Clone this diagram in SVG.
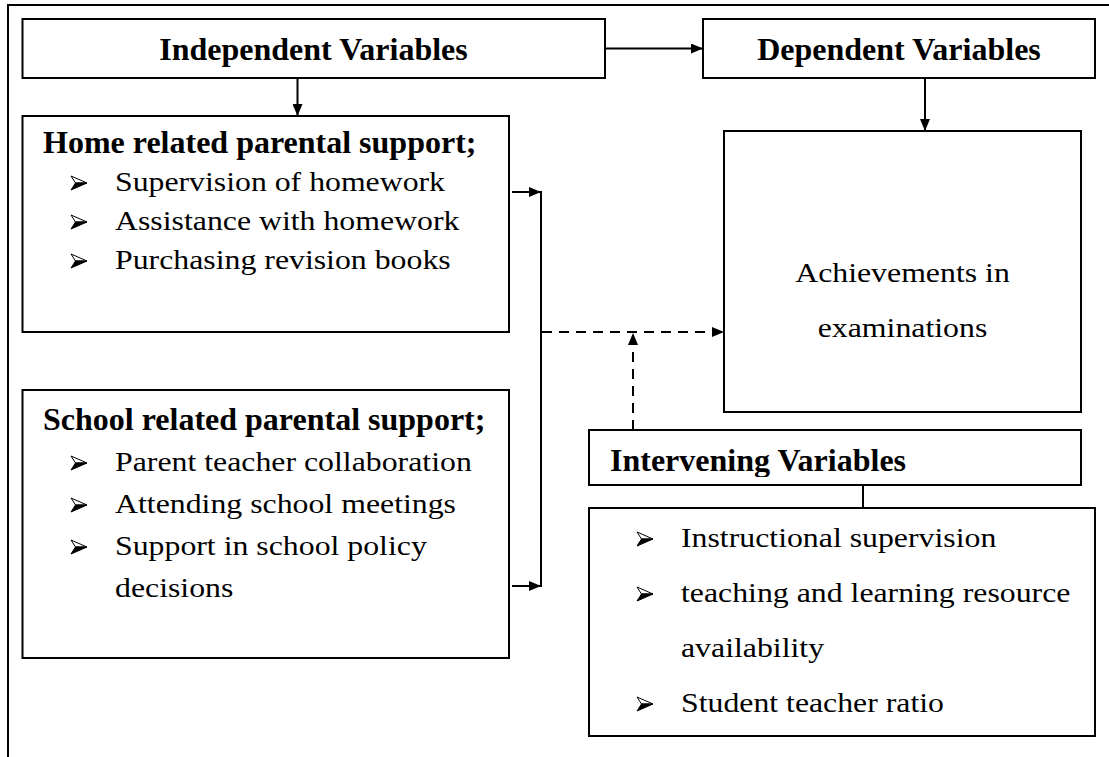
<svg xmlns="http://www.w3.org/2000/svg" width="1109" height="757" viewBox="0 0 1109 757">
  <style>
    .box { fill: #ffffff; stroke: #000000; stroke-width: 2; }
    .frame { fill: none; stroke: #000000; stroke-width: 2; }
    .link { fill: none; stroke: #000000; stroke-width: 2; }
    .dash { fill: none; stroke: #000000; stroke-width: 2; stroke-dasharray: 10 7; }
    .title { font-family: "Liberation Serif", "Times New Roman", serif; font-size: 32px; font-weight: bold; fill: #000000; }
    .body { font-family: "Liberation Serif", "Times New Roman", serif; font-size: 28px; fill: #000000; }
  </style>
  <defs>
    <marker id="arrow" viewBox="0 0 12 10" refX="12" refY="5" markerWidth="12" markerHeight="10" markerUnits="userSpaceOnUse" orient="auto">
      <path d="M0,0 L12,5 L0,10 Z" fill="#000000"/>
    </marker>
    <!-- three-d arrowhead bullet: light upper facet, dark lower facet -->
    <g id="bullet">
      <path d="M0,0 L16,7 L4.5,7 Z" fill="#ffffff" stroke="#000000" stroke-width="1" stroke-linejoin="round"/>
      <path d="M4.5,7 L16,7 L0,14 Z" fill="#000000" stroke="#000000" stroke-width="1" stroke-linejoin="round"/>
    </g>
    <clipPath id="intervening-clip">
      <rect x="589" y="430" width="492" height="47"/>
    </clipPath>
  </defs>

  <rect width="1109" height="757" fill="#ffffff"/>

  <!-- outer frame (top and left edges) -->
  <path class="frame" d="M8,757 L8,5 L1109,5"/>

  <g id="independent-variables">
    <rect class="box" x="22.5" y="19" width="582.5" height="59"/>
    <text class="title" x="313.5" y="60" text-anchor="middle">Independent Variables</text>
  </g>

  <g id="dependent-variables">
    <rect class="box" x="703" y="19" width="392" height="59"/>
    <text class="title" x="899" y="60" text-anchor="middle">Dependent Variables</text>
  </g>

  <g id="home-support">
    <rect class="box" x="22.5" y="116" width="486.5" height="216"/>
    <text class="title" x="43" y="153">Home related parental support;</text>
    <use href="#bullet" x="71" y="176"/>
    <text class="body" x="115" y="191" textLength="330" lengthAdjust="spacingAndGlyphs">Supervision of homework</text>
    <use href="#bullet" x="71" y="215"/>
    <text class="body" x="115" y="230" textLength="344.5" lengthAdjust="spacingAndGlyphs">Assistance with homework</text>
    <use href="#bullet" x="71" y="254"/>
    <text class="body" x="115" y="269" textLength="335.7" lengthAdjust="spacingAndGlyphs">Purchasing revision books</text>
  </g>

  <g id="school-support">
    <rect class="box" x="22.5" y="390" width="486.5" height="268"/>
    <text class="title" x="43" y="430">School related parental support;</text>
    <use href="#bullet" x="71" y="456"/>
    <text class="body" x="115" y="471" textLength="356.8" lengthAdjust="spacingAndGlyphs">Parent teacher collaboration</text>
    <use href="#bullet" x="71" y="498"/>
    <text class="body" x="115" y="513" textLength="341" lengthAdjust="spacingAndGlyphs">Attending school meetings</text>
    <use href="#bullet" x="71" y="540"/>
    <text class="body" x="115" y="555" textLength="311.8" lengthAdjust="spacingAndGlyphs">Support in school policy</text>
    <text class="body" x="115" y="597" textLength="118.4" lengthAdjust="spacingAndGlyphs">decisions</text>
  </g>

  <g id="achievements">
    <rect class="box" x="724" y="131" width="357" height="281"/>
    <text class="body" x="902.5" y="282" text-anchor="middle" textLength="214.6" lengthAdjust="spacingAndGlyphs">Achievements in</text>
    <text class="body" x="902.5" y="337" text-anchor="middle" textLength="169.6" lengthAdjust="spacingAndGlyphs">examinations</text>
  </g>

  <g id="intervening-variables">
    <rect class="box" x="589" y="430" width="492" height="55"/>
    <text class="title" x="610" y="471" clip-path="url(#intervening-clip)">Intervening Variables</text>
  </g>

  <g id="intervening-list">
    <rect class="box" x="589" y="508" width="506" height="228"/>
    <use href="#bullet" x="637" y="532"/>
    <text class="body" x="681" y="547" textLength="315.3" lengthAdjust="spacingAndGlyphs">Instructional supervision</text>
    <use href="#bullet" x="637" y="587"/>
    <text class="body" x="681" y="602" textLength="389.4" lengthAdjust="spacingAndGlyphs">teaching and learning resource</text>
    <text class="body" x="681" y="657" textLength="143.1" lengthAdjust="spacingAndGlyphs">availability</text>
    <use href="#bullet" x="637" y="697"/>
    <text class="body" x="681" y="712" textLength="263" lengthAdjust="spacingAndGlyphs">Student teacher ratio</text>
  </g>

  <g id="connectors">
    <line class="link" x1="605" y1="48.5" x2="703" y2="48.5" marker-end="url(#arrow)"/>
    <line class="link" x1="297.5" y1="78" x2="297.5" y2="116" marker-end="url(#arrow)"/>
    <line class="link" x1="925" y1="78" x2="925" y2="131" marker-end="url(#arrow)"/>
    <line class="link" x1="512" y1="192" x2="541" y2="192" marker-end="url(#arrow)"/>
    <line class="link" x1="512" y1="586" x2="541" y2="586" marker-end="url(#arrow)"/>
    <line class="link" x1="541" y1="191" x2="541" y2="587"/>
    <line class="dash" x1="542" y1="332" x2="724" y2="332" marker-end="url(#arrow)"/>
    <line class="dash" x1="633" y1="430" x2="633" y2="333" marker-end="url(#arrow)"/>
    <line class="link" x1="863" y1="485" x2="863" y2="508"/>
  </g>
</svg>
